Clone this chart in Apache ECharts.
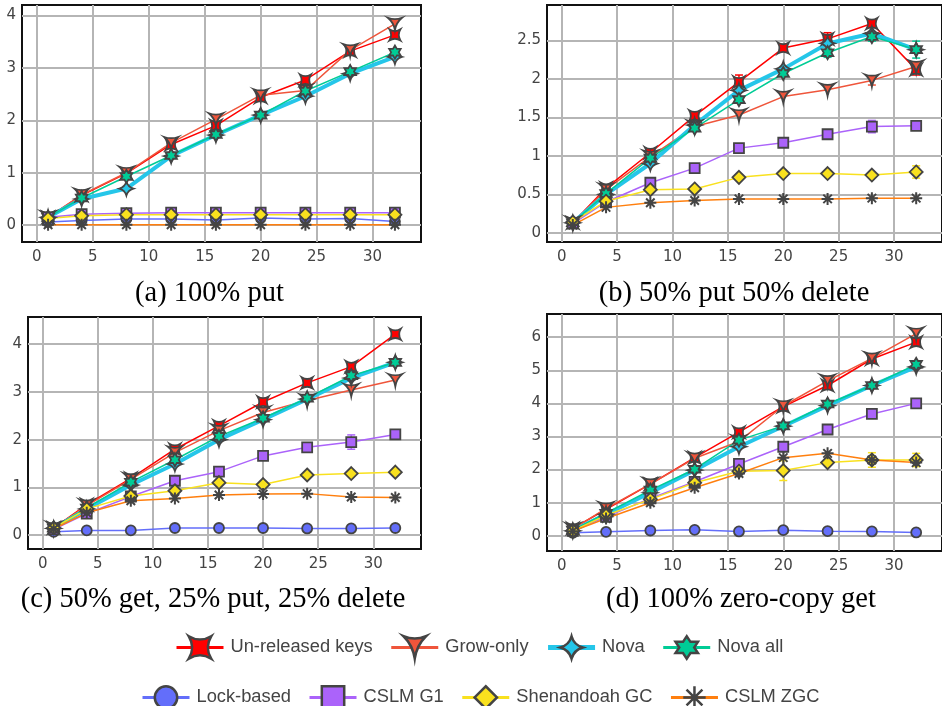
<!DOCTYPE html>
<html>
<head>
<meta charset="utf-8">
<script src="https://cdn.jsdelivr.net/npm/echarts@6/dist/echarts.min.js"></script>
<style>
  html, body { margin: 0; padding: 0; background: #fff; }
  #chart { width: 942px; height: 706px; }
</style>
</head>
<body>
<div id="chart"></div>
<script>
// ---- data -------------------------------------------------------------
const threads = [1, 4, 8, 12, 16, 20, 24, 28, 32];
const seriesNames = ['Un-released keys', 'Grow-only', 'Nova', 'Nova all',
                     'Lock-based', 'CSLM G1', 'Shenandoah GC', 'CSLM ZGC'];
const captions = ['(a) 100% put', '(b) 50% put 50% delete',
                  '(c) 50% get, 25% put, 25% delete', '(d) 100% zero-copy get'];
const xTicks = [0, 5, 10, 15, 20, 25, 30];
const yTicksA = [0, 1, 2, 3, 4];
const yTicksB = [0, 0.5, 1, 1.5, 2, 2.5];
const yTicksC = [0, 1, 2, 3, 4];
const yTicksD = [0, 1, 2, 3, 4, 5, 6];

// throughput per series, in seriesNames order
const valuesA = [
  [0.15, 0.57, 0.99, 1.54, 1.90, 2.44, 2.77, 3.32, 3.63],
  [0.15, 0.58, 1.00, 1.57, 2.02, 2.48, 2.57, 3.34, 3.84],
  [0.15, 0.50, 0.70, 1.32, 1.72, 2.10, 2.46, 2.89, 3.21],
  [0.15, 0.52, 0.93, 1.33, 1.73, 2.10, 2.56, 2.93, 3.30],
  [0.06, 0.09, 0.12, 0.12, 0.10, 0.14, 0.12, 0.13, 0.07],
  [0.15, 0.21, 0.23, 0.24, 0.24, 0.24, 0.24, 0.24, 0.24],
  [0.13, 0.18, 0.20, 0.20, 0.20, 0.20, 0.20, 0.20, 0.20],
  [0.01, 0.01, 0.01, 0.01, 0.01, 0.01, 0.01, 0.01, 0.01]
];
const valuesB = [
  [0.13, 0.58, 1.04, 1.52, 1.96, 2.40, 2.52, 2.72, 2.12],
  [0.13, 0.56, 0.99, 1.38, 1.53, 1.77, 1.86, 1.98, 2.16],
  [0.13, 0.50, 0.90, 1.40, 1.85, 2.13, 2.46, 2.59, 2.38],
  [0.13, 0.51, 0.97, 1.36, 1.73, 2.07, 2.34, 2.55, 2.38],
  null,
  [0.12, 0.40, 0.65, 0.84, 1.10, 1.17, 1.28, 1.38, 1.39],
  [0.14, 0.41, 0.56, 0.57, 0.72, 0.77, 0.77, 0.75, 0.79],
  [0.10, 0.33, 0.39, 0.42, 0.44, 0.44, 0.44, 0.45, 0.45]
];
const valuesC = [
  [0.15, 0.64, 1.19, 1.80, 2.29, 2.79, 3.19, 3.53, 4.21],
  [0.15, 0.62, 1.17, 1.73, 2.19, 2.57, 2.82, 3.04, 3.25],
  [0.14, 0.55, 1.05, 1.49, 2.00, 2.42, 2.85, 3.29, 3.62],
  [0.15, 0.57, 1.11, 1.58, 2.07, 2.45, 2.87, 3.34, 3.62],
  [0.07, 0.10, 0.10, 0.15, 0.15, 0.15, 0.14, 0.14, 0.15],
  [0.12, 0.45, 0.81, 1.14, 1.33, 1.66, 1.84, 1.95, 2.11],
  [0.15, 0.55, 0.82, 0.93, 1.10, 1.06, 1.26, 1.29, 1.32],
  [0.13, 0.47, 0.72, 0.77, 0.84, 0.86, 0.87, 0.80, 0.79]
];
const valuesD = [
  [0.22, 0.80, 1.56, 2.36, 3.13, 3.90, 4.54, 5.34, 5.85],
  [0.20, 0.83, 1.56, 2.34, 2.85, 3.92, 4.68, 5.36, 6.11],
  [0.15, 0.65, 1.30, 1.98, 2.69, 3.31, 3.93, 4.54, 5.10],
  [0.17, 0.68, 1.38, 2.01, 2.89, 3.32, 3.98, 4.54, 5.18],
  [0.09, 0.12, 0.16, 0.18, 0.13, 0.17, 0.14, 0.13, 0.10],
  [0.15, 0.57, 1.13, 1.63, 2.17, 2.69, 3.21, 3.68, 4.00],
  [0.15, 0.62, 1.10, 1.60, 1.95, 1.97, 2.21, 2.29, 2.29],
  [0.14, 0.52, 1.00, 1.45, 1.88, 2.36, 2.49, 2.29, 2.21]
];

// error-bar half heights (null = no visible spread)
const errorsA = [
  null,
  [0, 0, 0, 0, 0, 0, 0, 0.05, 0],
  null, null, null, null, null, null
];
const errorsB = [
  [0, 0, 0, 0, 0.09, 0, 0.08, 0.03, 0.07],
  [0, 0, 0, 0, 0, 0, 0, 0.06, 0.06],
  null,
  [0, 0, 0, 0, 0, 0, 0.06, 0.06, 0.11],
  null,
  [0, 0, 0, 0, 0, 0, 0, 0.08, 0],
  [0, 0, 0, 0, 0, 0, 0, 0, 0.08],
  null
];
const errorsC = [
  [0, 0, 0, 0, 0, 0, 0, 0, 0.06],
  null, null, null, null,
  [0, 0, 0, 0, 0, 0.08, 0, 0.15, 0],
  null, null
];
const errorsD = [
  null, null, null, null, null, null,
  [0, 0, 0, 0, 0, 0.3, 0, 0.22, 0.2],
  null
];

// ---- styling ------------------------------------------------------------
const colors = ['#ff0000', '#ef553b', '#25c6e9', '#00cc96',
                '#636efa', '#ab63fa', '#f9e11e', '#ff7f0e'];
const lineWidths = [1.5, 1.5, 4, 1.5, 1.5, 1.5, 1.5, 1.5];
const markerEdge = '#444';

const symbols = [
  // square with concave sides
  'path://M-1,-1 Q-0.4,0 -1,1 Q0,0.4 1,1 Q0.4,0 1,-1 Q0,-0.4 -1,-1 Z',
  // downward triangle with concave sides
  'path://M1.386,-0.8 Q0,-0.3 -1.386,-0.8 Q-0.26,0.15 0,1.6 Q0.26,0.15 1.386,-0.8 Z',
  // four-point star
  'path://M-1.4,0 Q-0.307,0.307 0,1.4 Q0.307,0.307 1.4,0 Q0.307,-0.307 0,-1.4 Q-0.307,-0.307 -1.4,0 Z',
  // hexagram
  'path://M-0.76,0 L-1.14,-0.66 L-0.38,-0.66 L0,-1.32 L0.38,-0.66 L1.14,-0.66 L0.76,0 L1.14,0.66 L0.38,0.66 L0,1.32 L-0.38,0.66 L-1.14,0.66 Z',
  'circle',
  'rect',
  'diamond',
  // asterisk (stroke only)
  'path://M0,1.2 L0,-1.2 M1.2,0 L-1.2,0 M0.85,0.85 L-0.85,-0.85 M0.85,-0.85 L-0.85,0.85'
];
const symbolSizes = [[11, 11], [14, 12], [14, 14], [11.5, 13.3],
                     [10, 10], [10, 10], [13, 13], [12, 12]];

const panels = [
  { left: 22,  top: 5,   width: 399, height: 237, yMin: -0.32, yMax: 4.2,  yTicks: yTicksA, values: valuesA, errors: errorsA, cap: [209.5, 294] },
  { left: 547, top: 5,   width: 399, height: 237, yMin: -0.12, yMax: 2.96, yTicks: yTicksB, values: valuesB, errors: errorsB, cap: [734, 294] },
  { left: 28,  top: 317, width: 393, height: 232, yMin: -0.29, yMax: 4.57, yTicks: yTicksC, values: valuesC, errors: errorsC, cap: [213, 600] },
  { left: 547, top: 314, width: 399, height: 237, yMin: -0.46, yMax: 6.7,  yTicks: yTicksD, values: valuesD, errors: errorsD, cap: [741, 600] }
];

const tickFont = { fontFamily: 'DejaVu Sans', fontSize: 15, color: '#444' };
const gridLine = { show: true, lineStyle: { color: '#b5b5b5', width: 2 } };

const grids = [], xAxes = [], yAxes = [], series = [], graphics = [];

panels.forEach((p, i) => {
  grids.push({
    left: p.left, top: p.top, width: p.width, height: p.height,
    show: true, backgroundColor: '#fff', borderColor: '#111', borderWidth: 2
  });
  xAxes.push({
    type: 'value', gridIndex: i, min: -1.33, max: 34.33,
    axisLine: { show: false },
    axisTick: { show: false, customValues: xTicks },
    axisLabel: Object.assign({ customValues: xTicks, margin: 8 }, tickFont),
    splitLine: gridLine
  });
  yAxes.push({
    type: 'value', gridIndex: i, min: p.yMin, max: p.yMax,
    axisLine: { show: false },
    axisTick: { show: false, customValues: p.yTicks },
    axisLabel: Object.assign({ customValues: p.yTicks, margin: 6 }, tickFont),
    splitLine: gridLine
  });

  // error bars sit beneath the markers
  const errData = [];
  p.errors.forEach((errs, s) => {
    if (!errs || !p.values[s]) return;
    errs.forEach((e, k) => {
      if (e > 0) errData.push([threads[k], p.values[s][k], e, s]);
    });
  });
  series.push({
    type: 'custom', xAxisIndex: i, yAxisIndex: i, z: 1, silent: true,
    encode: { x: 0, y: 1 }, data: errData,
    renderItem: (params, api) => {
      const x = api.value(0), y = api.value(1), e = api.value(2);
      const c = colors[api.value(3)];
      const hi = api.coord([x, y + e]), lo = api.coord([x, y - e]);
      const w = 4;
      const st = { stroke: c, lineWidth: 1.5 };
      return {
        type: 'group', children: [
          { type: 'line', shape: { x1: hi[0], y1: hi[1], x2: lo[0], y2: lo[1] }, style: st },
          { type: 'line', shape: { x1: hi[0] - w, y1: hi[1], x2: hi[0] + w, y2: hi[1] }, style: st },
          { type: 'line', shape: { x1: lo[0] - w, y1: lo[1], x2: lo[0] + w, y2: lo[1] }, style: st }
        ]
      };
    }
  });

  seriesNames.forEach((name, s) => {
    const vals = p.values[s];
    if (!vals) return;
    const isAsterisk = s === 7;
    series.push({
      type: 'line', name: name, xAxisIndex: i, yAxisIndex: i, z: 2,
      data: threads.map((t, k) => [t, vals[k]]),
      symbol: symbols[s], symbolSize: symbolSizes[s],
      lineStyle: { color: colors[s], width: lineWidths[s] },
      itemStyle: {
        color: isAsterisk ? markerEdge : colors[s],
        borderColor: markerEdge, borderWidth: isAsterisk ? 2 : 1.8
      },
      emphasis: { disabled: true },
      animation: false
    });
  });

  graphics.push({
    type: 'text', x: p.cap[0], y: p.cap[1], silent: true,
    style: {
      text: captions[i], fontFamily: 'Liberation Serif', fontSize: 28.5,
      fill: '#000', align: 'center', verticalAlign: 'middle'
    }
  });
});

const legendText = { fontFamily: 'Liberation Sans', fontSize: 18.3, color: '#444', padding: [0, 0, 0, 2] };
const legendItem = name => ({ name: name, lineStyle: { width: name === 'Nova' ? 5 : 3 } });
const legendBase = {
  orient: 'horizontal', itemWidth: 47, itemHeight: 28, itemGap: 17,
  textStyle: legendText, itemStyle: { borderWidth: 2.5 }, selectedMode: false
};

const chart = echarts.init(document.getElementById('chart'), null, { renderer: 'canvas' });
chart.setOption({
  animation: false,
  backgroundColor: '#fff',
  grid: grids,
  xAxis: xAxes,
  yAxis: yAxes,
  series: series,
  legend: [
    Object.assign({ data: seriesNames.slice(0, 4).map(legendItem), left: 170, top: 630 }, legendBase),
    Object.assign({ data: seriesNames.slice(4).map(legendItem), left: 136, top: 680 }, legendBase)
  ],
  graphic: graphics
});
</script>
</body>
</html>
